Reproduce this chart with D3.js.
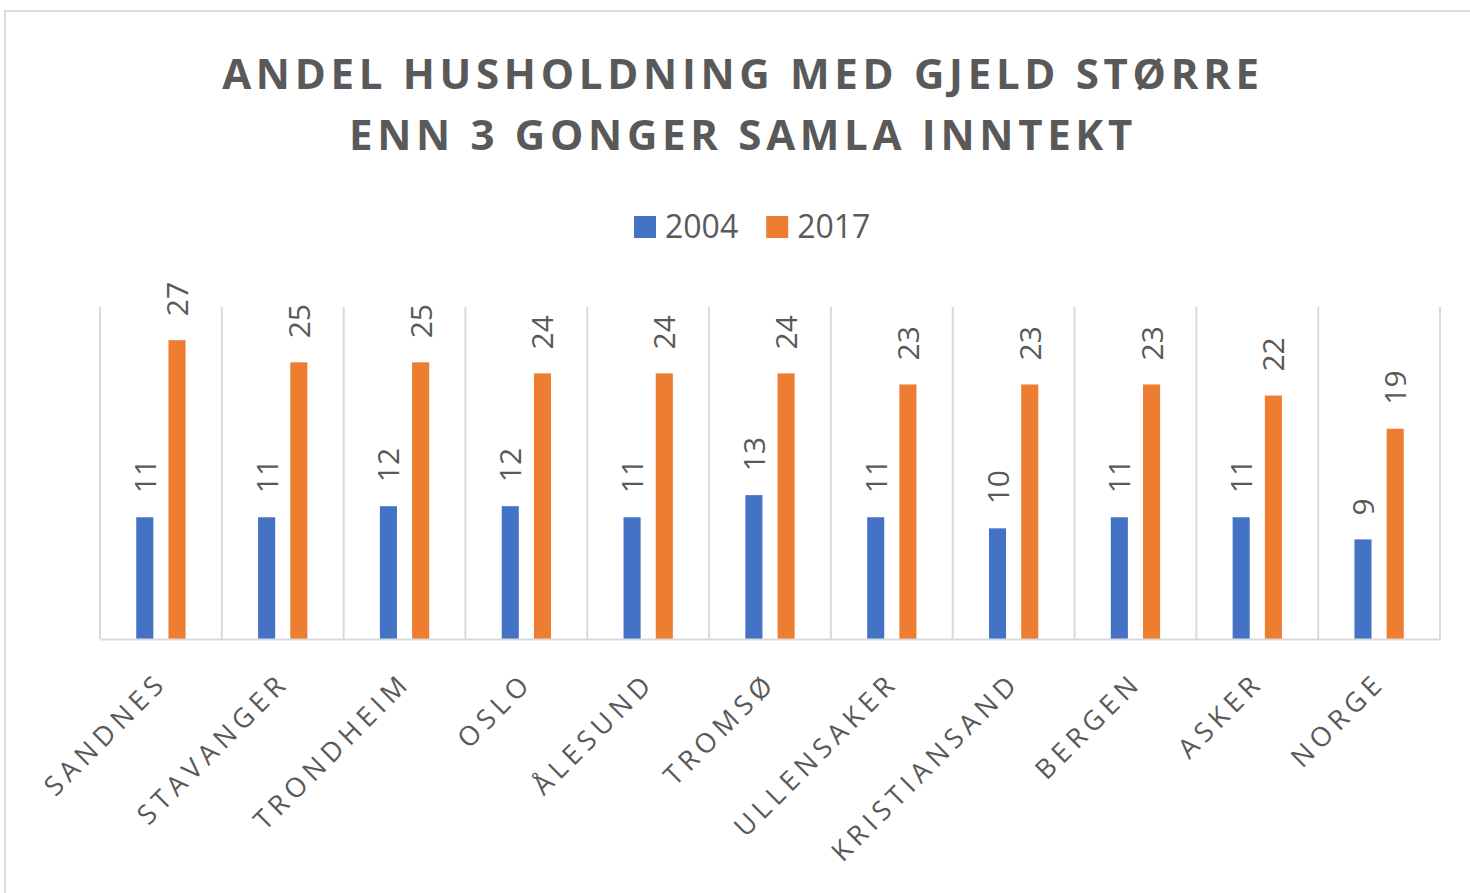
<!DOCTYPE html>
<html>
<head>
  <meta charset="utf-8">
  <title>Andel husholdning med gjeld</title>
  <script src="https://cdn.jsdelivr.net/npm/d3@7"></script>
  <style>
    html, body { margin: 0; padding: 0; background: #fff; }
    svg { display: block; font-family: "Open Sans", sans-serif; }
  </style>
</head>
<body>
<svg id="chart" width="1470" height="893"></svg>
<script>
// data
var categories = ["SANDNES", "STAVANGER", "TRONDHEIM", "OSLO", "ÅLESUND", "TROMSØ",
                  "ULLENSAKER", "KRISTIANSAND", "BERGEN", "ASKER", "NORGE"];
var series = ["2004", "2017"];
var values2004 = [11, 11, 12, 12, 11, 13, 11, 10, 11, 11, 9];
var values2017 = [27, 25, 25, 24, 24, 24, 23, 23, 23, 22, 19];
var titleLines = ["ANDEL HUSHOLDNING MED GJELD STØRRE", "ENN 3 GONGER SAMLA INNTEKT"];

var colors = { "2004": "#4472C4", "2017": "#ED7D31" };
var textColor = "#595959";
var gridColor = "#d9d9d9";

var width = 1470, height = 893;
var plot = { left: 100, right: 1440, top: 307, bottom: 639 };

var rows = categories.map(function(c, i) {
  return { cat: c, "2004": values2004[i], "2017": values2017[i] };
});

var svg = d3.select("#chart");

// outer frame of the chart (runs off the bottom/right of the picture)
svg.append("rect")
  .attr("x", 5).attr("y", 11)
  .attr("width", width + 20).attr("height", height + 20)
  .attr("fill", "#fff")
  .attr("stroke", "#dcdcdc")
  .attr("stroke-width", 2);

// title
svg.append("text")
  .attr("x", 743).attr("y", 89)
  .attr("text-anchor", "middle")
  .style("font-size", "42px")
  .style("font-weight", 700)
  .style("letter-spacing", "4.7px")
  .attr("fill", textColor)
  .selectAll("tspan").data(titleLines).enter().append("tspan")
    .attr("x", 743)
    .attr("dy", function(d, i) { return i ? 61 : 0; })
    .text(function(d) { return d; });

// legend
var legend = svg.append("g").attr("class", "legend");
var lx = 634;
series.forEach(function(s) {
  var g = legend.append("g").attr("transform", "translate(" + lx + ",216)");
  g.append("rect").attr("width", 22).attr("height", 22).attr("fill", colors[s]);
  var t = g.append("text")
    .attr("x", 31).attr("y", 22)
    .style("font-size", "32px")
    .attr("fill", textColor)
    .text(s);
  lx += 31 + t.node().getComputedTextLength() + 28;
});

// scales
var x0 = d3.scaleBand()
  .domain(categories)
  .range([plot.left, plot.right]);

var x1 = d3.scaleBand()
  .domain(series)
  .range([0, x0.bandwidth()])
  .paddingInner(0.47)
  .paddingOuter(1.125);

var y = d3.scaleLinear()
  .domain([0, 30])
  .range([plot.bottom, plot.top]);

// vertical gridlines at category boundaries
var bounds = categories.map(function(c) { return x0(c); }).concat([plot.right]);
svg.append("g").selectAll("line").data(bounds).enter().append("line")
  .attr("x1", function(d) { return d; })
  .attr("x2", function(d) { return d; })
  .attr("y1", y(30))
  .attr("y2", y(0))
  .attr("stroke", gridColor)
  .attr("stroke-width", 2);

// bars
var groups = svg.append("g").selectAll("g").data(rows).enter().append("g")
  .attr("transform", function(d) { return "translate(" + x0(d.cat) + ",0)"; });

groups.selectAll("rect")
  .data(function(d) { return series.map(function(s) { return { key: s, value: d[s] }; }); })
  .enter().append("rect")
    .attr("x", function(d) { return x1(d.key); })
    .attr("width", x1.bandwidth())
    .attr("y", function(d) { return y(d.value); })
    .attr("height", function(d) { return y(0) - y(d.value); })
    .attr("fill", function(d) { return colors[d.key]; });

// data labels, rotated
groups.selectAll("text")
  .data(function(d) { return series.map(function(s) { return { key: s, value: d[s] }; }); })
  .enter().append("text")
    .attr("transform", function(d) {
      var cx = x1(d.key) + x1.bandwidth() / 2 + 11;
      return "translate(" + cx + "," + (y(d.value) - 24) + ") rotate(-90)";
    })
    .style("font-size", "30px")
    .attr("fill", textColor)
    .text(function(d) { return d.value; });

// x axis baseline + rotated category labels
var xAxis = svg.append("g")
  .attr("transform", "translate(0," + plot.bottom + ")")
  .call(d3.axisBottom(x0).tickSize(0).tickPadding(0));
xAxis.select(".domain").attr("stroke", gridColor).attr("stroke-width", 2);
xAxis.selectAll(".tick text")
  .attr("y", 0).attr("dy", 0)
  .attr("text-anchor", "end")
  .attr("transform", "translate(8,45) rotate(-45)")
  .style("font-size", "27px")
  .style("letter-spacing", "5.5px")
  .style("font-family", "'Open Sans', sans-serif")
  .attr("fill", textColor);
</script>
</body>
</html>
